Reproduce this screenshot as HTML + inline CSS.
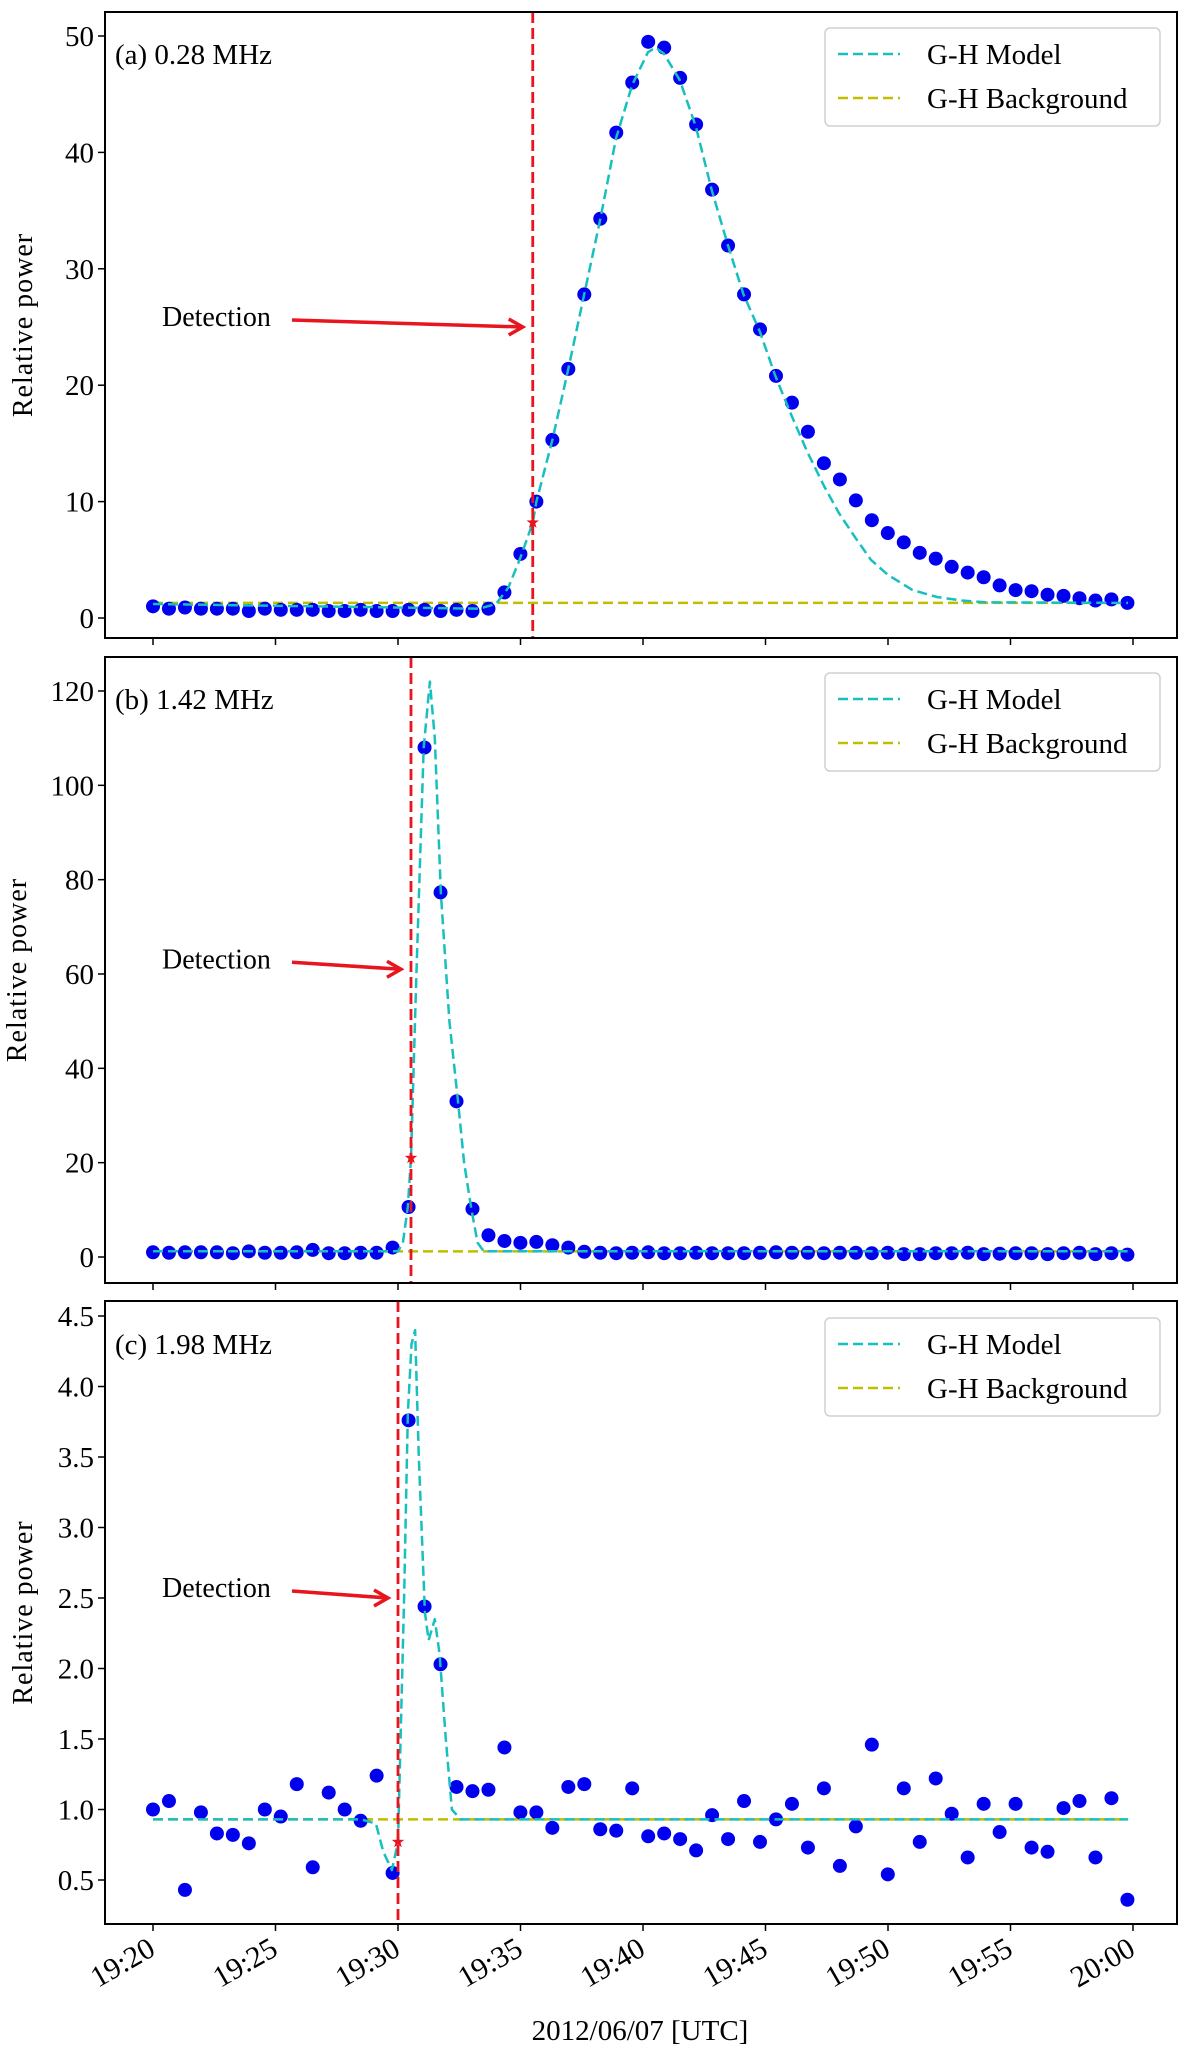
<!DOCTYPE html>
<html><head><meta charset="utf-8">
<style>
html,body{margin:0;padding:0;background:#fff;}
svg{display:block;font-family:"Liberation Serif",serif;}
</style></head>
<body>
<svg id="chart" width="1200" height="2060" viewBox="0 0 1200 2060" xmlns="http://www.w3.org/2000/svg"></svg>
<script>
// ---- data ----
const tickLabels = ["19:20","19:25","19:30","19:35","19:40","19:45","19:50","19:55","20:00"];
const tickMinutes = [0,5,10,15,20,25,30,35,40];
const sampleStart = 0;
const sampleStep = 0.652;
const powerA = [1.0,0.8,0.9,0.8,0.8,0.8,0.6,0.8,0.7,0.7,0.7,0.6,0.6,0.7,0.6,0.6,0.7,0.7,0.6,0.7,0.6,0.8,
  2.2,5.5,10,15.3,21.4,27.8,34.3,41.7,46,49.5,49,46.4,42.4,36.8,32,27.8,24.8,20.8,18.5,16,13.3,11.9,10.1,8.4,7.3,6.5,5.6,5.1,4.4,3.9,3.5,2.8,2.4,2.3,2.0,1.9,1.7,1.5,1.6,1.3];
const powerB = [1.0,0.9,1.0,1.0,1.0,0.8,1.2,0.9,0.9,1.0,1.5,0.8,0.8,0.9,0.9,2.0,10.6,108,77.3,33,10.2,4.6,3.4,3.0,3.2,2.5,2.0,1.1,
  0.9,0.8,0.9,1.0,0.8,0.8,0.9,0.8,0.8,0.8,0.9,1.0,0.9,0.9,0.8,0.9,0.9,0.8,0.9,0.6,0.6,0.8,0.8,0.9,0.6,0.7,0.8,0.8,0.6,0.8,0.9,0.6,0.8,0.5];
const powerC = [1.0,1.06,0.43,0.98,0.83,0.82,0.76,1.0,0.95,1.18,0.59,1.12,1.0,0.92,1.24,0.55,3.76,2.44,2.03,1.16,1.13,1.14,1.44,0.98,0.98,0.87,1.16,1.18,0.86,0.85,1.15,0.81,0.83,0.79,0.71,0.96,0.79,1.06,0.77,0.93,1.04,0.73,1.15,0.60,0.88,1.46,0.54,1.15,0.77,1.22,0.97,0.66,1.04,0.84,1.04,0.73,0.70,1.01,1.06,0.66,1.08,0.36];
const modelTA = [0,13.3,14.0,14.5,15.0,15.5,15.65,16.3,16.95,17.6,18.26,18.9,19.56,20.2,20.5,20.85,21.5,22.16,22.8,23.47,24.1,24.77,25.4,26.08,26.7,27.4,28,28.7,29.3,30,31,32,33,34,39.8];
const modelVA = [1.2,0.8,1.2,2.6,5.2,8.2,10,15.3,21.4,27.8,34.3,41.2,45.8,48.6,49,48.5,46.2,42.2,36.8,32,27.8,24.6,20.8,17.3,14.3,11.3,9,6.8,5,3.7,2.4,1.8,1.5,1.35,1.3];
const modelTB = [0,10.0,10.2,10.4,10.53,10.75,11.05,11.3,11.5,11.75,12.1,12.45,12.7,13.0,13.25,13.5,39.8];
const modelVB = [1.2,1.2,3,10.6,21,60,108,122,110,77,50,33,20,10,3,1.2,1.2];
const modelTC = [0,8.5,9.1,9.4,9.75,10.0,10.25,10.4,10.55,10.7,10.85,11.1,11.25,11.5,11.7,11.95,12.2,12.55,39.8];
const modelVC = [0.93,0.93,0.9,0.7,0.57,0.77,2.5,3.8,4.3,4.4,3.5,2.4,2.2,2.35,2.1,1.5,1.0,0.93,0.93];
const backgroundA = 1.3, backgroundB = 1.2, backgroundC = 0.93;
const detectionMin = [15.5, 10.53, 10.0];
const detectionVal = [8.2, 21, 0.77];
const arrowVal = [25, 61, 2.5];
const yTicksA = [0,10,20,30,40,50];
const yTicksB = [0,20,40,60,80,100,120];
const yTicksC = [0.5,1.0,1.5,2.0,2.5,3.0,3.5,4.0,4.5];

// ---- layout ----
const svg = document.getElementById('chart');
const NS = 'http://www.w3.org/2000/svg';
const X0 = 153, PXMIN = 24.5, LEFT = 105, RIGHT = 1177;
function xs(m){ return X0 + m*PXMIN; }
function mk(tag, attrs, parent){
  const e = document.createElementNS(NS, tag);
  for (const k in attrs) e.setAttribute(k, attrs[k]);
  (parent||svg).appendChild(e);
  return e;
}
const panels = [
  {id:'a', label:'(a) 0.28 MHz', top:12, bottom:638, v0:0, p0:618, v1:50, p1:36, ticks:yTicksA, fmt:v=>String(v), pts:powerA, mt:modelTA, mv:modelVA, bg:backgroundA, legTop:28},
  {id:'b', label:'(b) 1.42 MHz', top:657, bottom:1283, v0:0, p0:1257, v1:120, p1:691, ticks:yTicksB, fmt:v=>String(v), pts:powerB, mt:modelTB, mv:modelVB, bg:backgroundB, legTop:673},
  {id:'c', label:'(c) 1.98 MHz', top:1301, bottom:1924, v0:0.5, p0:1880, v1:4.5, p1:1316, ticks:yTicksC, fmt:v=>v.toFixed(1), pts:powerC, mt:modelTC, mv:modelVC, bg:backgroundC, legTop:1318}
];
panels.forEach((P, pi) => {
  const ys = v => P.p0 + (v - P.v0) * (P.p1 - P.p0) / (P.v1 - P.v0);
  const g = mk('g', {});
  
  
  P.ticks.forEach(v => {
    const y = ys(v);
    const t = mk('line', {x1:LEFT-7, x2:LEFT, y1:y, y2:y, stroke:'#000', 'stroke-width':1.5}, g);
    
    
    const lb = mk('text', {x:LEFT-11, y:y+10, 'text-anchor':'end', 'font-size':29, fill:'#000'}, g);
    lb.textContent = P.fmt(v);
    
    
  });
  tickMinutes.forEach((m, i) => {
    const x = xs(m);
    const t = mk('line', {x1:x, x2:x, y1:P.bottom, y2:P.bottom+7, stroke:'#000', 'stroke-width':1.5}, g);
    
    
    if (pi === 2) {
      const lb = mk('text', {x:0, y:0, 'text-anchor':'end', 'font-size':30, fill:'#000',
        transform:'translate(' + (x+4) + ',' + (P.bottom+30) + ') rotate(-30)'}, g);
      lb.textContent = tickLabels[i];
      
      
    }
  });
  const cy = (P.top + P.bottom) / 2;
  const yt = mk('text', {x:0, y:0, 'text-anchor':'middle', 'font-size':28, 'letter-spacing':1, fill:'#000',
    transform:'translate(' + (pi===1?26:32) + ',' + cy + ') rotate(-90)'}, g);
  yt.textContent = 'Relative power';
  
  
  const bl = mk('line', {x1:xs(0), x2:xs(39.8), y1:ys(P.bg), y2:ys(P.bg), stroke:'#bfbf00', 'stroke-width':2.5, 'stroke-dasharray':'10 5'}, g);
  
  
  P.pts.forEach((v, i) => {
    const c = mk('circle', {cx:xs(sampleStart + i*sampleStep), cy:ys(v), r:7, fill:'#0000ee'}, g);
    
    
  });
  const d = P.mt.map((m, i) => (i ? 'L' : 'M') + xs(m).toFixed(1) + ',' + ys(P.mv[i]).toFixed(1)).join(' ');
  const ml = mk('path', {d:d, fill:'none', stroke:'#17bfbf', 'stroke-width':2.5, 'stroke-dasharray':'10 5', 'stroke-linejoin':'round'}, g);
  
  
  const dx = xs(detectionMin[pi]);
  const dl = mk('line', {x1:dx, x2:dx, y1:P.top, y2:P.bottom, stroke:'#e8141e', 'stroke-width':2.8, 'stroke-dasharray':'11 5'}, g);
  
  
  const sy = ys(detectionVal[pi]);
  const sp = [];
  for (let k = 0; k < 10; k++) {
    const a = -Math.PI/2 + k*Math.PI/5, r = k%2 ? 2.6 : 6.5;
    sp.push((dx + r*Math.cos(a)).toFixed(1) + ',' + (sy + r*Math.sin(a)).toFixed(1));
  }
  const st = mk('polygon', {points:sp.join(' '), fill:'#e8141e'}, g);
  
  
  const ay = ys(arrowVal[pi]);
  const dt = mk('text', {x:162, y:ay-1, 'font-size':28, fill:'#000'}, g);
  dt.textContent = 'Detection';
  
  
  const ax1 = 292, ax2 = dx - 10;
  const ar = mk('line', {x1:ax1, y1:ay-7, x2:ax2, y2:ay, stroke:'#e8141e', 'stroke-width':3.5}, g);
  
  
  const ah = mk('path', {d:'M' + (ax2-14) + ',' + (ay-8) + ' L' + ax2 + ',' + ay + ' L' + (ax2-14) + ',' + (ay+8), fill:'none', stroke:'#e8141e', 'stroke-width':3.5}, g);
  
  
  const pl = mk('text', {x:115, y:P.legTop+36, 'font-size':29, fill:'#000'}, g);
  pl.textContent = P.label;
  
  
  const fr = mk('rect', {x:LEFT, y:P.top, width:RIGHT-LEFT, height:P.bottom-P.top, fill:'none', stroke:'#000', 'stroke-width':2}, g);
  
  
  const lg = mk('g', {}, g);
  
  
  mk('rect', {x:825, y:P.legTop, width:335, height:98, rx:5, fill:'#fff', 'fill-opacity':0.85, stroke:'#d0d0d0', 'stroke-width':1.5}, lg);
  const e1 = mk('line', {x1:838, x2:900, y1:P.legTop+26, y2:P.legTop+26, stroke:'#17bfbf', 'stroke-width':2.5, 'stroke-dasharray':'10 5'}, lg);
  
  
  const t1 = mk('text', {x:927, y:P.legTop+36, 'font-size':29, fill:'#000'}, lg);
  t1.textContent = 'G-H Model';
  
  
  const e2 = mk('line', {x1:838, x2:900, y1:P.legTop+70, y2:P.legTop+70, stroke:'#bfbf00', 'stroke-width':2.5, 'stroke-dasharray':'10 5'}, lg);
  
  
  const t2 = mk('text', {x:927, y:P.legTop+80, 'font-size':29, fill:'#000'}, lg);
  t2.textContent = 'G-H Background';
  
  
});
const xt = mk('text', {x:640, y:2040, 'text-anchor':'middle', 'font-size':29, fill:'#000'});
xt.textContent = '2012/06/07 [UTC]';


</script>
</body></html>
